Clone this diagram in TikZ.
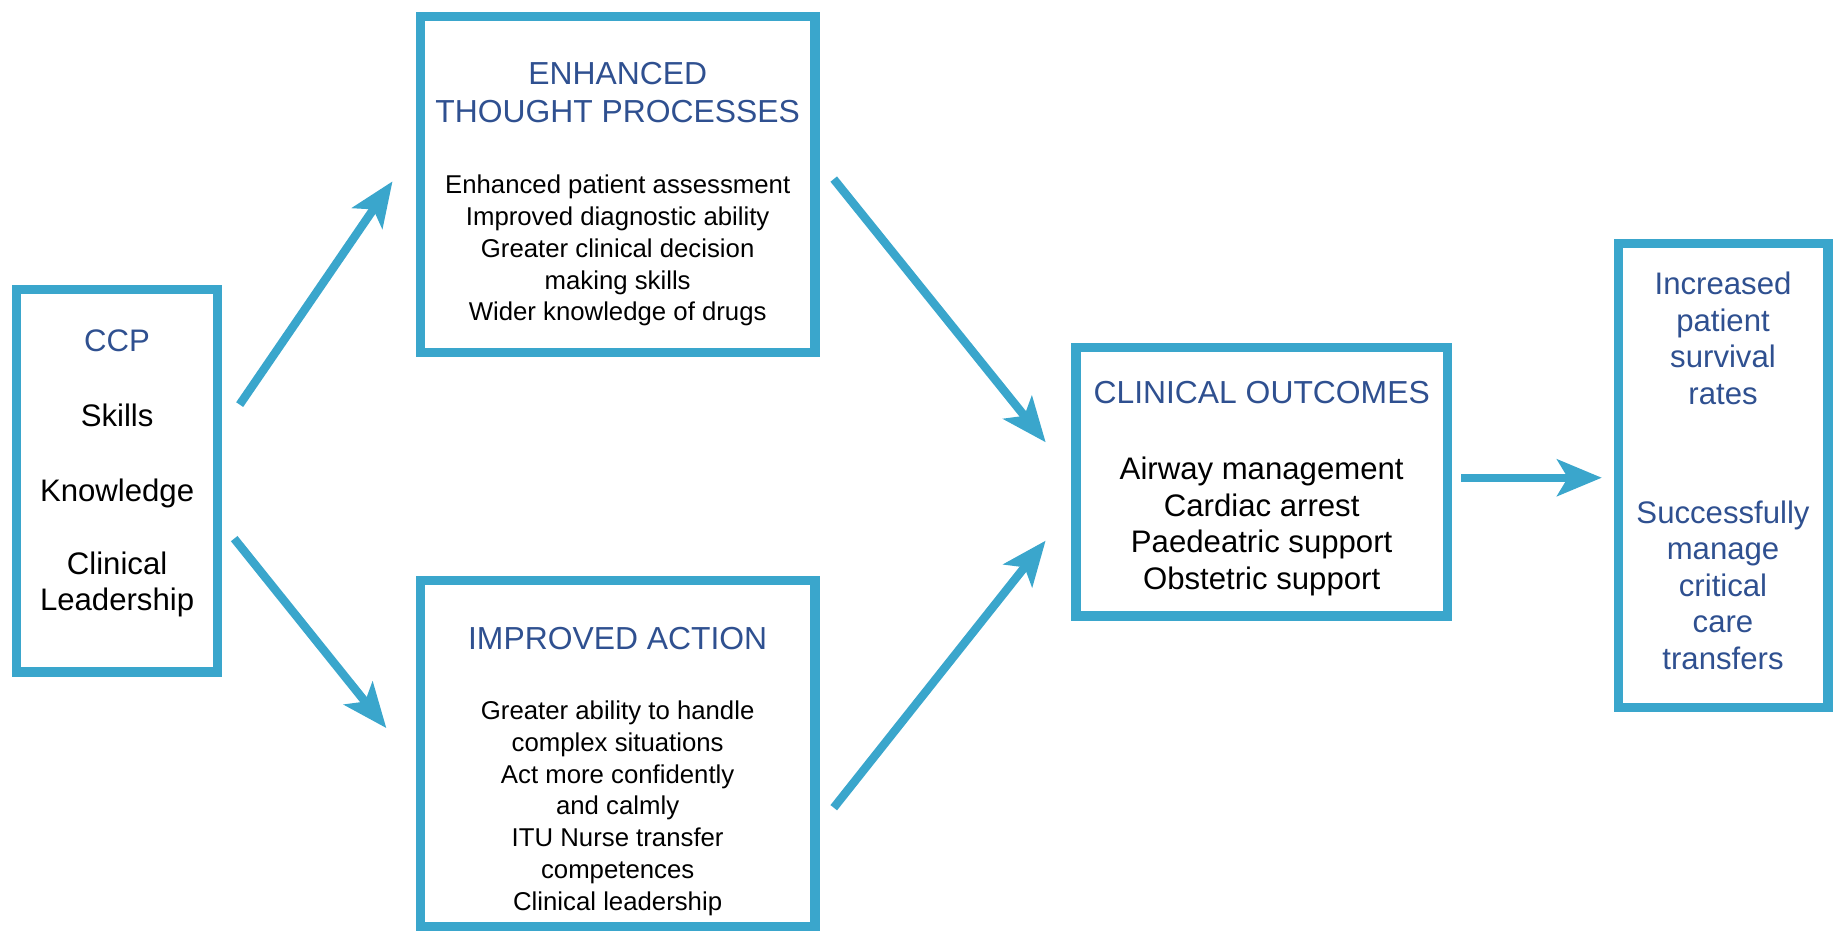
\documentclass[tikz,border=0pt]{standalone}
\usepackage{fontspec}
\setmainfont{Liberation Sans}
\usetikzlibrary{arrows.meta}
\definecolor{boxblue}{HTML}{3AA6CC}
\definecolor{headblue}{HTML}{2F5090}

\begin{document}
\begin{tikzpicture}[x=0.5pt, y=-0.5pt,
  box/.style={draw=boxblue, line width=4pt, inner sep=0pt},
  txt/.style={align=center, inner sep=0pt, anchor=north},
  head/.style={txt, text=headblue, font=\fontsize{13.6}{16}\selectfont},
  small/.style={txt, font=\fontsize{11}{13.6}\selectfont},
  large/.style={txt, font=\fontsize{13.3}{15.6}\selectfont},
  flow/.style={draw=boxblue, line width=3.6pt, -{Stealth[length=19pt, width=15.5pt, inset=4.5pt]}}]
\useasboundingbox (0,0) rectangle (1568,796);
% boxes
\node[box, minimum width=86pt, minimum height=163.5pt] (ccp) at (100,410.5) {};
\node[box, minimum width=168.5pt, minimum height=143.5pt] (etp) at (527.5,157.5) {};
\node[box, minimum width=168.5pt, minimum height=147.5pt] (ia) at (527.5,643.5) {};
\node[box, minimum width=158.5pt, minimum height=114.5pt] (co) at (1077.5,411.5) {};
\node[box, minimum width=89.5pt, minimum height=198pt] (res) at (1471.5,406) {};
% texts
\node[large] (ccptext) at (100,281) {\textcolor{headblue}{CCP}\\[16.5pt] Skills\\[16.5pt] Knowledge\\[15.5pt] Clinical\\ Leadership};
\node[head] (etptitle) at (527.5,53) {ENHANCED\\THOUGHT PROCESSES};
\node[small] (etpbody) at (527.5,149) {Enhanced patient assessment\\Improved diagnostic ability\\Greater clinical decision\\making skills\\Wider knowledge of drugs};
\node[head] (iatitle) at (527.5,535) {IMPROVED ACTION};
\node[small] (iabody) at (527.5,598) {Greater ability to handle\\complex situations\\Act more confidently\\and calmly\\ITU Nurse transfer\\competences\\Clinical leadership};
\node[head] (cotitle) at (1077.5,325) {CLINICAL OUTCOMES};
\node[large] (cobody) at (1077.5,390) {Airway management\\Cardiac arrest\\Paedeatric support\\Obstetric support};
\node[large, text=headblue] (resa) at (1471.5,232) {Increased\\patient\\survival\\rates};
\node[large, text=headblue] (resb) at (1471.5,427) {Successfully\\manage\\critical\\care\\transfers};
% arrows
\draw[flow, shorten <=13pt, shorten >=17.5pt] ([yshift=21.75pt]ccp.east) -- ([yshift=15.75pt]etp.west);
\draw[flow, shorten <=8pt, shorten >=20pt] ([yshift=-18.5pt]ccp.east) -- ([yshift=-4.75pt]ia.west);
\draw[flow, shorten <=9.6pt, shorten >=17.5pt] ([yshift=9.75pt]etp.east) -- ([yshift=3.25pt]co.west);
\draw[flow, shorten <=9.7pt, shorten >=17.7pt] ([yshift=-30.75pt]ia.east) -- ([yshift=-11.25pt]co.west);
\draw[flow, shorten <=4pt, shorten >=5pt] ([yshift=1.75pt]co.east) -- ([yshift=-1pt]res.west);
\end{tikzpicture}
\end{document}
